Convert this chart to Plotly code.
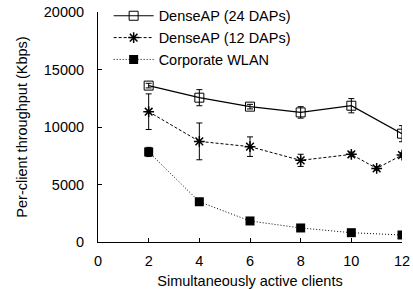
import plotly.graph_objects as go

clients = [2, 4, 6, 8, 10, 12]
dense24 = [13600, 12550, 11770, 11270, 11850, 9420]
dense24_err = [200, 700, 200, 500, 620, 700]
clients12 = [2, 4, 6, 8, 10, 11, 12]
dense12 = [11330, 8750, 8290, 7100, 7620, 6400, 7560]
dense12_err = [1550, 1600, 850, 530, 200, 150, 200]
corp = [7830, 3500, 1830, 1220, 810, 610]
corp_err = [400, 150, 100, 80, 60, 50]

names = ["DenseAP (24 DAPs)", "DenseAP (12 DAPs)", "Corporate WLAN"]
x_ticks = [0, 2, 4, 6, 8, 10, 12]
y_ticks = [0, 5000, 10000, 15000, 20000]

fig = go.Figure()
fig.add_trace(go.Scatter(
    x=clients, y=dense24, name=names[0], mode="lines+markers",
    line=dict(color="black", width=1.2, dash="solid"),
    marker=dict(symbol="square-open", size=9, color="black", line=dict(width=1)),
    error_y=dict(type="data", array=dense24_err, color="black", thickness=1, width=3),
))
fig.add_trace(go.Scatter(
    x=clients12, y=dense12, name=names[1], mode="lines+markers",
    line=dict(color="black", width=1, dash="3px,2px"),
    marker=dict(symbol="asterisk-open", size=9, color="black", line=dict(width=1.5, color="black")),
    error_y=dict(type="data", array=dense12_err, color="black", thickness=1, width=3),
))
fig.add_trace(go.Scatter(
    x=clients, y=corp, name=names[2], mode="lines+markers",
    line=dict(color="black", width=1, dash="1px,2px"),
    marker=dict(symbol="square", size=9, color="black"),
    error_y=dict(type="data", array=corp_err, color="black", thickness=1, width=3),
))

font = "Liberation Sans, Arial, Helvetica, sans-serif"
fig.update_layout(
    width=413, height=289,
    margin=dict(l=98, r=11, t=12, b=47, autoexpand=False),
    paper_bgcolor="white", plot_bgcolor="white",
    font=dict(family=font, size=14.5, color="black"),
    showlegend=True,
    legend=dict(x=0.035, y=1.053, xanchor="left", yanchor="top",
                bgcolor="rgba(0,0,0,0)", font=dict(size=14.5),
                tracegroupgap=0, itemwidth=40),
    xaxis=dict(range=[0, 12], tickvals=x_ticks, ticktext=[str(v) for v in x_ticks],
               ticks="inside", ticklen=4, tickcolor="black", showline=True,
               linecolor="black", linewidth=1, showgrid=False, zeroline=False,
               ticklabelstandoff=6, automargin=False,
               title=dict(text="Simultaneously active clients", font=dict(size=14.5), standoff=12)),
    yaxis=dict(range=[0, 20000], tickvals=y_ticks, ticktext=[str(v) for v in y_ticks],
               ticks="inside", ticklen=4, tickcolor="black", showline=True,
               linecolor="black", linewidth=1, showgrid=False, zeroline=False,
               ticklabelstandoff=10, automargin=False,
               title=dict(text="Per-client throughput (Kbps)", font=dict(size=14.5), standoff=12)),
)
fig.write_html("out.html", config={"displayModeBar": False},
               post_script="document.body.style.margin='0px';document.body.style.overflow='hidden';")
